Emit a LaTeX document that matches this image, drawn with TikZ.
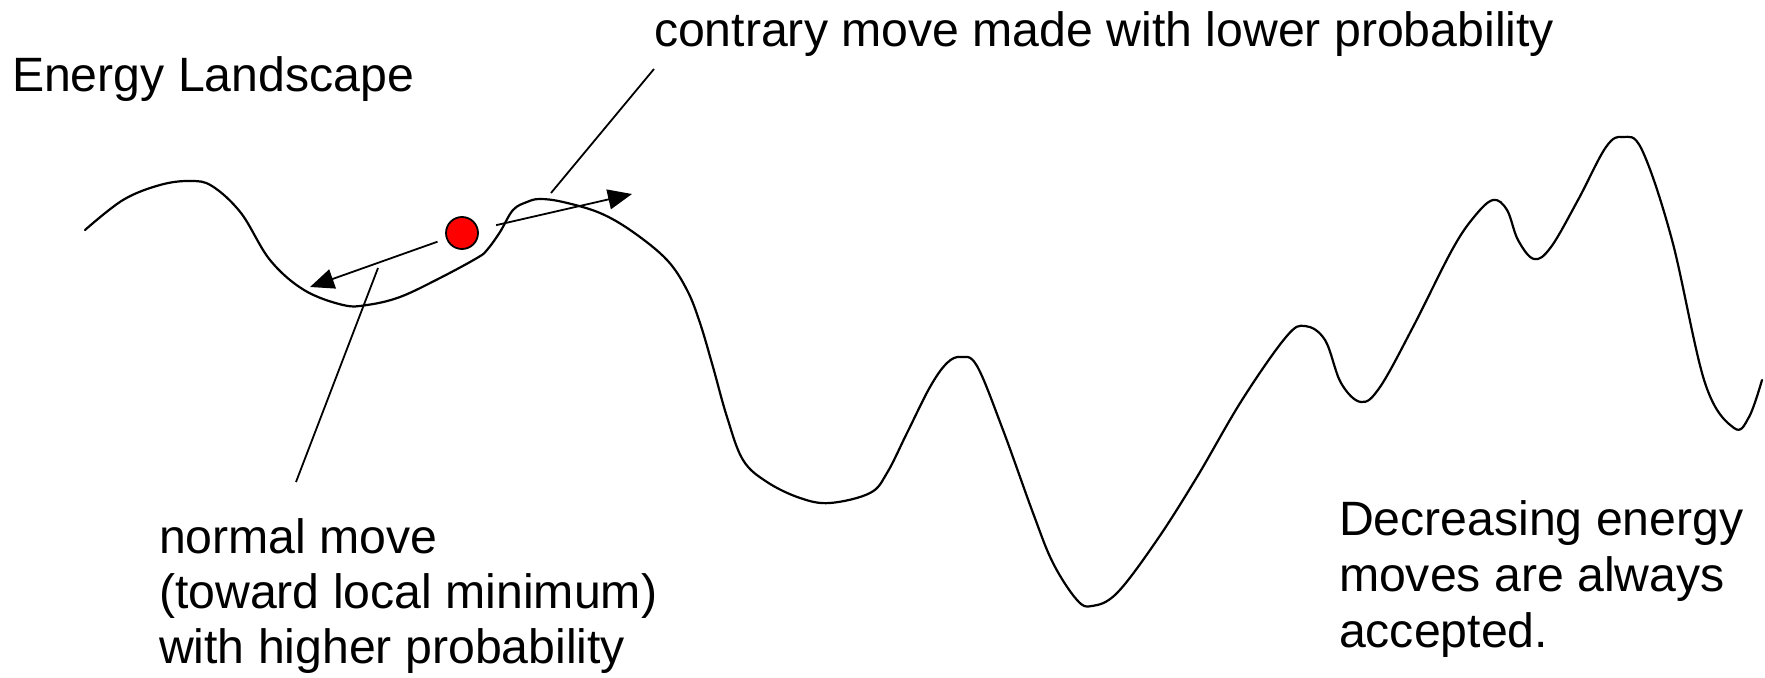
\documentclass[tikz,border=0pt]{standalone}
\usepackage{fontspec}
\setmainfont{Liberation Sans}
\usetikzlibrary{arrows.meta}
\begin{document}
\begin{tikzpicture}[x=0.5pt,y=-0.5pt,
  lbl/.style={anchor=base west, inner sep=0pt, outer sep=0pt, align=left},
  land/.style={line width=1.1pt, line join=round, line cap=round},
  ptr/.style={line width=0.9pt},
  arr/.style={line width=0.9pt, -{Triangle[length=12pt,width=10pt]}},
  ballst/.style={circle, draw=black, fill=red, line width=0.9pt, minimum size=16pt, inner sep=0pt, outer sep=0pt}]
\useasboundingbox (0,0) rectangle (1765,678);

% texts (multi-line nodes are anchored at the baseline of their last line)
\node[lbl, font=\fontsize{24.1}{27}\selectfont] (title) at (12,91.7) {Energy Landscape};
\node[lbl, font=\fontsize{24.1}{27}\selectfont] (contrary) at (654,46.7) {contrary move made with lower probability};
\node[lbl, font=\fontsize{24.1}{27.5}\selectfont] (normal) at (159,663) {normal move\\(toward local minimum)\\with higher probability};
\node[lbl, font=\fontsize{24.1}{28}\selectfont] (decr) at (1339,647) {Decreasing energy\\moves are always\\accepted.};

% landscape
\draw[land] plot[smooth, tension=0.6] coordinates {
(85,230) (123,200) (160,185) (190,181) (212,186) (241,213) (270,260) (304,290)
(343,305) (367,305) (400,297) (440,278) (477,258) (487,250) (500,232) (513,210)
(527,202) (540,199) (563,202) (600,213) (633,232) (667,260) (687,290) (700,323)
(713,367) (727,417) (743,460) (767,482) (800,498) (830,503) (870,493) (887,473)
(907,433) (930,387) (947,363) (961,357) (977,366) (1003,430) (1033,513) (1053,563)
(1077,600) (1092,606) (1117,593) (1157,540) (1197,477) (1242,400) (1286,337) (1305,326)
(1325,340) (1341,383) (1361,402) (1380,387) (1413,327) (1452,250) (1474,217) (1493,200)
(1507,210) (1518,240) (1534,259) (1551,247) (1578,200) (1606,147) (1623,137) (1642,150)
(1672,240) (1705,383) (1734,428) (1749,417) (1762,380)};

% ball and moves
\node[ballst] (ball) at (462,233) {};
\coordinate (lefttip) at (310,287);
\coordinate (righttip) at (632,194);
\draw[arr, shorten <=5pt] (ball) -- (lefttip);
\draw[arr, shorten <=9.5pt] (ball) -- (righttip);

% pointers
\coordinate (ctop) at (654,69);
\coordinate (cbot) at (551,193);
\draw[ptr] (ctop) -- (cbot);
\coordinate (ntop) at (378,268);
\coordinate (nbot) at (296,482);
\draw[ptr] (ntop) -- (nbot);
\end{tikzpicture}
\end{document}
